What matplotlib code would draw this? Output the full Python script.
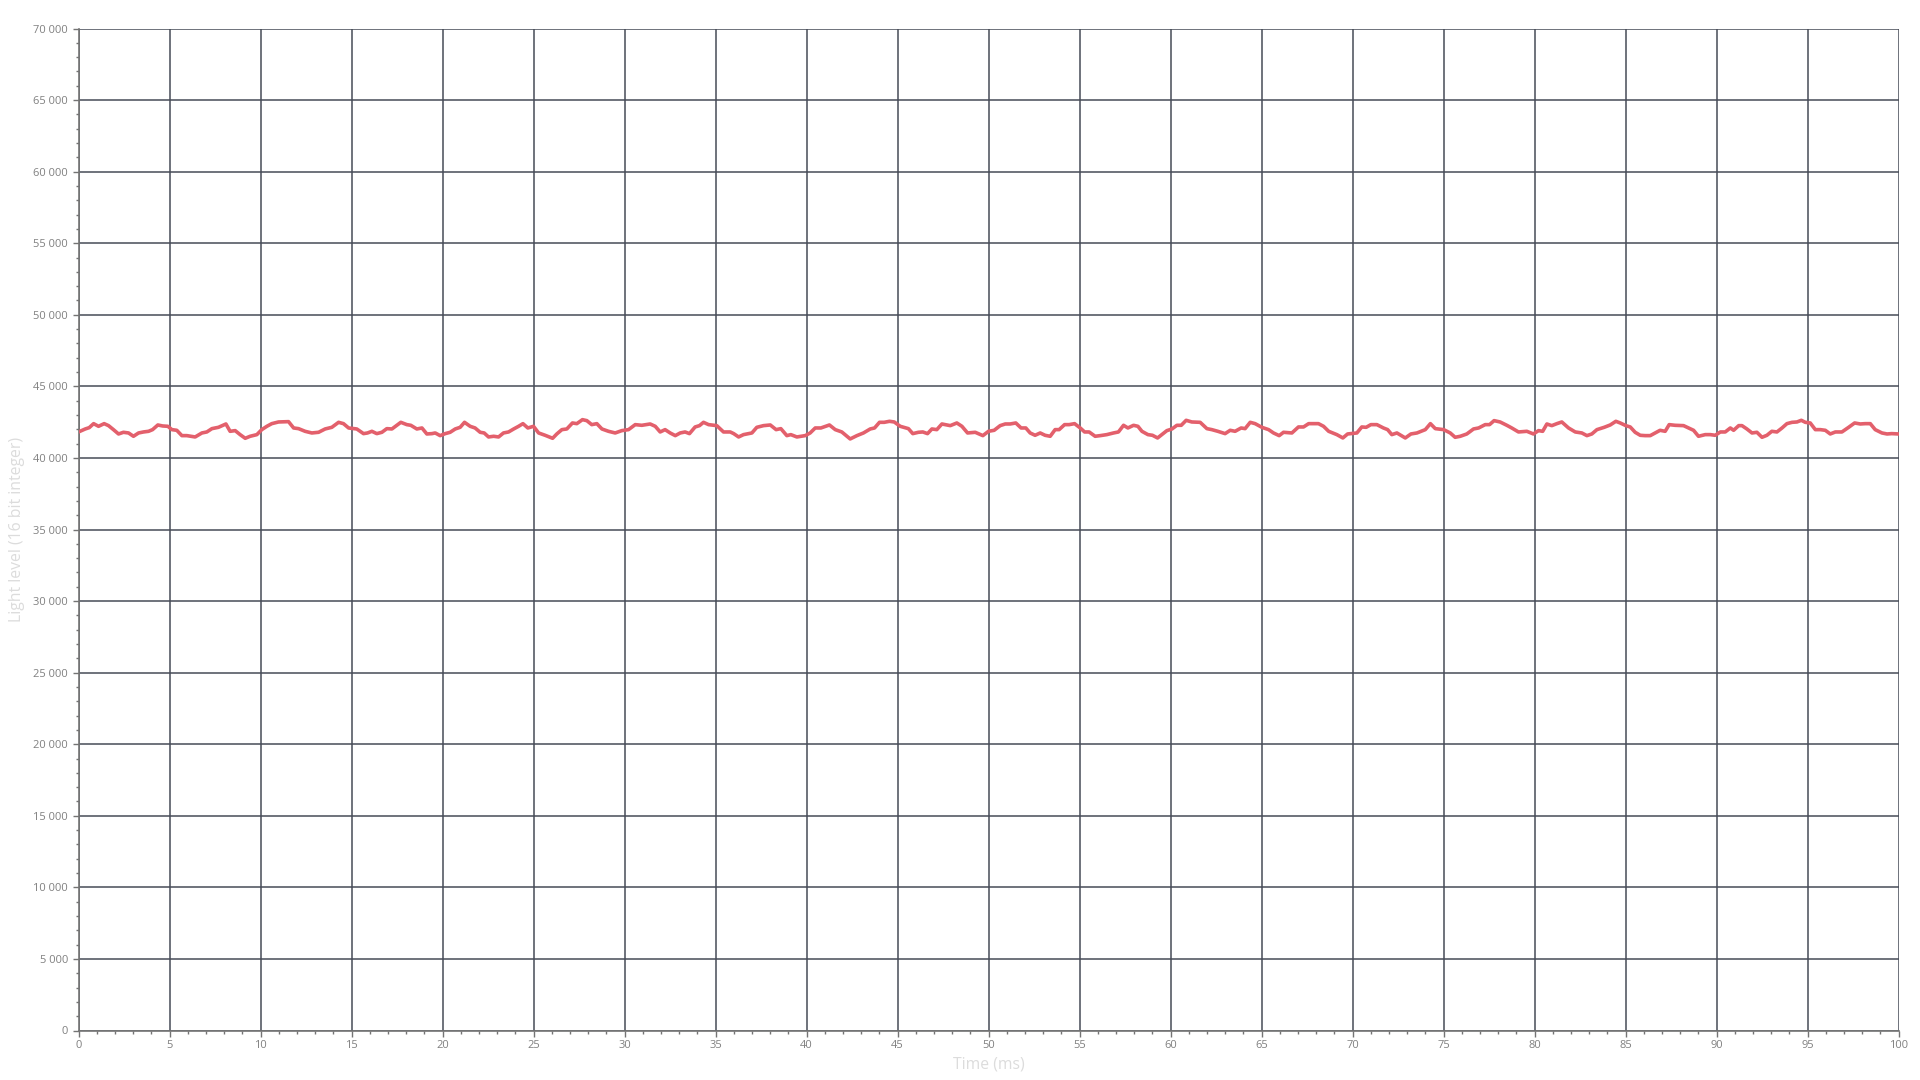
import matplotlib
matplotlib.use("Agg")
import matplotlib.pyplot as plt
from matplotlib.ticker import MultipleLocator, FuncFormatter

# Light level samples (time in ms, 16 bit value)
TIME = [
    0.0, 0.37, 0.59, 0.83, 1.10, 1.41, 1.65, 1.92, 2.20, 2.47, 2.75, 3.02, 3.30, 3.57, 3.85,
    4.07, 4.36, 4.62, 4.91, 5.13, 5.40, 5.68, 5.95, 6.41, 6.78, 7.05, 7.33, 7.69, 8.10, 8.33,
    8.61, 8.88, 9.16, 9.43, 9.80, 10.07, 10.35, 10.62, 10.99,
    11.54, 11.82, 12.09, 12.45, 12.82, 13.19, 13.55, 13.92, 14.29, 14.56, 14.84, 15.29, 15.66,
    15.88, 16.12, 16.39, 16.67, 16.94, 17.22, 17.71, 18.04, 18.26, 18.59, 18.87, 19.14, 19.42,
    19.60, 19.87, 20.15, 20.42, 20.70, 20.97, 21.21, 21.52, 21.79, 22.07, 22.29,
    22.53, 22.81, 23.08, 23.35, 23.63, 23.91, 24.18, 24.42, 24.69, 25.00, 25.28, 25.64, 26.05,
    26.28, 26.56, 26.83, 27.14, 27.38, 27.69, 27.93, 28.20, 28.48, 28.76, 29.12, 29.49, 29.85,
    30.22, 30.59, 30.95, 31.41, 31.69, 31.96, 32.23, 32.51, 32.79, 33.06, 33.33, 33.57,
    33.88, 34.12, 34.34, 34.62, 35.07, 35.44, 35.81, 36.00, 36.27, 36.54, 37.00, 37.27, 37.64,
    38.01, 38.33, 38.59, 38.92, 39.14, 39.47, 39.93, 40.20, 40.48, 40.79, 41.26, 41.58, 41.94,
    42.40, 42.77, 43.13, 43.50, 43.74, 44.01, 44.27, 44.56, 44.82, 45.15, 45.60, 45.84, 46.15,
    46.39, 46.65, 46.89, 47.16, 47.44, 47.90, 48.26, 48.54, 48.85, 49.27, 49.69, 50.00, 50.31,
    50.64, 50.92, 51.19, 51.50, 51.79, 52.05, 52.29, 52.56, 52.84, 53.11, 53.39, 53.66, 53.88,
    54.18, 54.43, 54.73, 55.04, 55.28, 55.53, 55.86, 56.14, 56.50, 56.87, 57.14, 57.42, 57.66,
    57.97, 58.21, 58.43, 58.76, 59.01, 59.29, 59.52, 59.80, 60.08, 60.35, 60.59, 60.86, 61.17,
    61.63, 62.00, 62.27, 62.60, 63.00, 63.28, 63.55, 63.88, 64.10, 64.38, 64.65, 65.02, 65.39,
    65.66, 65.97, 66.21, 66.67, 67.03,
    67.31, 67.59, 68.13, 68.41, 68.69, 69.14, 69.47, 69.73, 70.24, 70.51, 70.75, 71.01, 71.34,
    71.70, 71.93, 72.16, 72.44, 72.90, 73.21, 73.54, 74.00, 74.28, 74.55, 75.01, 75.37, 75.64,
    75.92, 76.28, 76.65, 76.93, 77.29, 77.53, 77.78, 78.11, 78.48, 78.75, 79.12, 79.58, 79.94,
    80.22, 80.45, 80.68, 80.95, 81.23, 81.50, 81.87, 82.24, 82.60, 82.88, 83.15, 83.43, 83.83,
    84.16, 84.47, 84.71, 85.02, 85.26, 85.53, 85.81, 86.08, 86.36, 86.63, 86.90, 87.18, 87.40,
    87.73, 88.19, 88.46, 88.74, 89.01, 89.38, 89.66, 89.93, 90.21, 90.48, 90.76, 90.94, 91.22,
    91.40, 91.67, 91.95, 92.22, 92.50, 92.77, 93.04, 93.32, 93.60, 93.87, 94.15, 94.42, 94.66,
    94.88, 95.15, 95.43, 95.70, 95.98, 96.25, 96.53, 96.89, 97.26, 97.59, 97.90, 98.17, 98.45,
    98.72, 99.09, 99.37, 99.63, 100.0,
]
LEVEL = [
    41814, 42023, 42116, 42395, 42209, 42395, 42256, 41977, 41674, 41791, 41744, 41512, 41744, 41814, 41860,
    41977, 42302, 42233, 42209, 41977, 41930, 41558, 41558, 41465, 41744, 41814, 42046, 42139, 42372, 41860,
    41907, 41628, 41372, 41512, 41628, 41977, 42209, 42395, 42512,
    42535, 42093, 42046, 41860, 41744, 41791, 42023, 42139, 42488, 42395, 42093, 42023, 41698,
    41744, 41860, 41698, 41791, 42046, 42023, 42488, 42326, 42279, 42023, 42093, 41674, 41698,
    41744, 41558, 41698, 41791, 42023, 42139, 42488, 42209, 42093, 41791, 41744,
    41465, 41512, 41465, 41744, 41814, 42023, 42209, 42395, 42093, 42209, 41744, 41581, 41372,
    41674, 41977, 42023, 42442, 42395, 42674, 42605, 42326, 42395, 42023, 41860, 41744, 41907,
    41977, 42326, 42279, 42372, 42209, 41814, 41977, 41744, 41558, 41744, 41814, 41698,
    42163, 42256, 42488, 42326, 42256, 41814, 41814, 41698, 41465, 41628, 41744, 42139, 42256,
    42302, 41977, 42046, 41558, 41628, 41465, 41558, 41744, 42093, 42093, 42302, 41977, 41814,
    41326, 41558, 41744, 42023, 42093, 42488, 42488, 42558, 42512, 42209, 42046, 41698, 41791,
    41814, 41698, 42023, 41977, 42372, 42256, 42442, 42209, 41744, 41791, 41558, 41860, 41930,
    42256, 42372, 42372, 42442, 42093, 42093, 41744, 41581, 41744, 41581, 41512, 41977, 41977,
    42326, 42326, 42395, 42093, 41814, 41814, 41512, 41558, 41628, 41744, 41814, 42279, 42093,
    42279, 42209, 41860, 41628, 41581, 41395, 41628, 41907, 42023, 42279, 42279, 42628, 42512,
    42488, 42046, 41977, 41860, 41698, 41930, 41860, 42093, 42046, 42488, 42395, 42139, 41977,
    41744, 41558, 41791, 41744, 42163,
    42163, 42395, 42395, 42209, 41860, 41628, 41395, 41674, 41744, 42163, 42139, 42326, 42326,
    42093, 41977, 41628, 41744, 41395, 41674, 41744, 41977, 42395, 42046, 41977, 41744, 41442,
    41512, 41674, 42023, 42093, 42326, 42326, 42605, 42512, 42279, 42093, 41814, 41860, 41674,
    41907, 41860, 42372, 42256, 42395, 42512, 42093, 41814, 41744, 41558, 41674, 41977, 42139,
    42302, 42558, 42442, 42256, 42163, 41791, 41581, 41558, 41558, 41744, 41930, 41860, 42326,
    42279, 42256, 42093, 41930, 41512, 41628, 41628, 41581, 41814, 41814, 42093, 41930, 42256,
    42256, 42023, 41744, 41791, 41442, 41581, 41860, 41814, 42093, 42395, 42488, 42512, 42628,
    42488, 42442, 41977, 41977, 41930, 41674, 41814, 41814, 42139, 42442, 42372, 42395, 42395,
    41977, 41744, 41674, 41698, 41674,
]

plt.rcParams['font.family'] = ['Open Sans', 'DejaVu Sans']

fig = plt.figure(figsize=(19.2, 10.8), dpi=100)
ax = fig.add_axes([78.5 / 1920, 1 - 1030.5 / 1080, 1820 / 1920, 1002 / 1080])

ax.plot(TIME, LEVEL, color='#e3606c', linewidth=2.6, zorder=3,
        solid_joinstyle='round')

ax.set_xlim(0, 100)
ax.set_ylim(0, 70000)
ax.xaxis.set_major_locator(MultipleLocator(5))
ax.xaxis.set_minor_locator(MultipleLocator(1))
ax.yaxis.set_major_locator(MultipleLocator(5000))
ax.yaxis.set_minor_locator(MultipleLocator(1000))
ax.yaxis.set_major_formatter(FuncFormatter(lambda v, p: f"{int(v):,}".replace(",", " ")))

ax.grid(True, which='major', color='#474c57', linewidth=1.1, zorder=1)
ax.set_axisbelow(True)

for side in ('top', 'right'):
    ax.spines[side].set_visible(False)
for side in ('left', 'bottom'):
    ax.spines[side].set_color('#747474')
    ax.spines[side].set_linewidth(1.2)

ax.tick_params(axis='both', which='major', labelsize=8, labelcolor='#808080',
               color='#747474', length=4, width=1)
ax.tick_params(axis='both', which='minor', color='#747474', length=2.5, width=1)
ax.tick_params(axis='x', pad=3)

ax.set_xlabel("Time (ms)", fontsize=11.3, color='#dcdcdc', labelpad=4)
ax.set_ylabel("Light level (16 bit integer)", fontsize=11.3, color='#dcdcdc')
ax.yaxis.set_label_coords(-0.0295, 0.5)

fig.savefig("out.png", dpi=100)
